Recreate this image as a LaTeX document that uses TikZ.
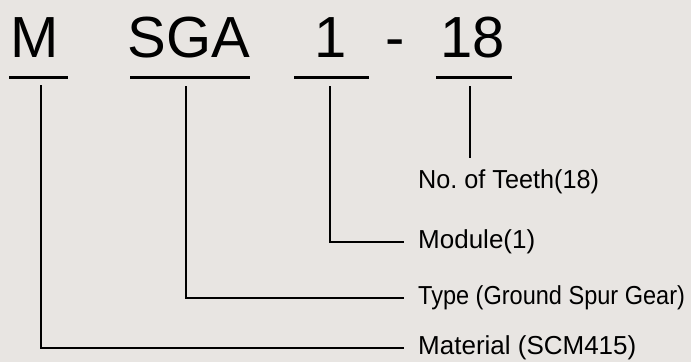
\documentclass[tikz,border=0pt]{standalone}
\usepackage{fontspec}
\setmainfont{Liberation Sans}
\definecolor{bg}{HTML}{E8E5E2}
\begin{document}
\frenchspacing
\begin{tikzpicture}[x=1pt,y=-1pt,
  big/.style={inner sep=0pt,anchor=base,font=\fontsize{58}{60}\selectfont},
  lab/.style={anchor=west,inner xsep=14pt,inner ysep=0pt,font=\fontsize{26}{30}\selectfont},
  uline/.style={line width=3pt},
  conn/.style={line width=1.6pt}]
\fill[bg] (0,0) rectangle (691,362);
\useasboundingbox (0,0) rectangle (691,362);
% code letters
\node[big] (tM) at (35,57) {M};
\node[big] (tSGA) at (189,57) {SGA};
\node[big] (t1) at (331,57) {1};
\node[big] (tdash) at (395,57) {-};
\node[big] (t18) at (473,57) {18};
% underlines
\coordinate (uMa) at (9,77);   \coordinate (uMb) at (68,77);
\coordinate (uSa) at (130,77); \coordinate (uSb) at (250,77);
\coordinate (u1a) at (294,77); \coordinate (u1b) at (369,77);
\coordinate (u8a) at (436,77); \coordinate (u8b) at (512,77);
\draw[uline] (uMa) -- (uMb);
\draw[uline] (uSa) -- (uSb);
\draw[uline] (u1a) -- (u1b);
\draw[uline] (u8a) -- (u8b);
% connector starts
\coordinate (cM) at (41,85);
\coordinate (cS) at (186,86);
\coordinate (c1) at (330,86);
\coordinate (c8) at (470,86);
\coordinate (c8e) at (470,158);
% labels
\node[lab] (teeth) at (404,182) {\scalebox{0.97}[1]{No. of Teeth(18)}};
\node[lab] (module) at (404,242) {Module(1)};
\node[lab] (type) at (404,298) {\scalebox{0.905}[1]{Type (Ground Spur Gear)}};
\node[lab] (material) at (404,348) {Material (SCM415)};
% connectors
\draw[conn] (c8) -- (c8e);
\draw[conn] (c1) |- (module.west);
\draw[conn] (cS) |- (type.west);
\draw[conn] (cM) |- (material.west);
\end{tikzpicture}
\end{document}
